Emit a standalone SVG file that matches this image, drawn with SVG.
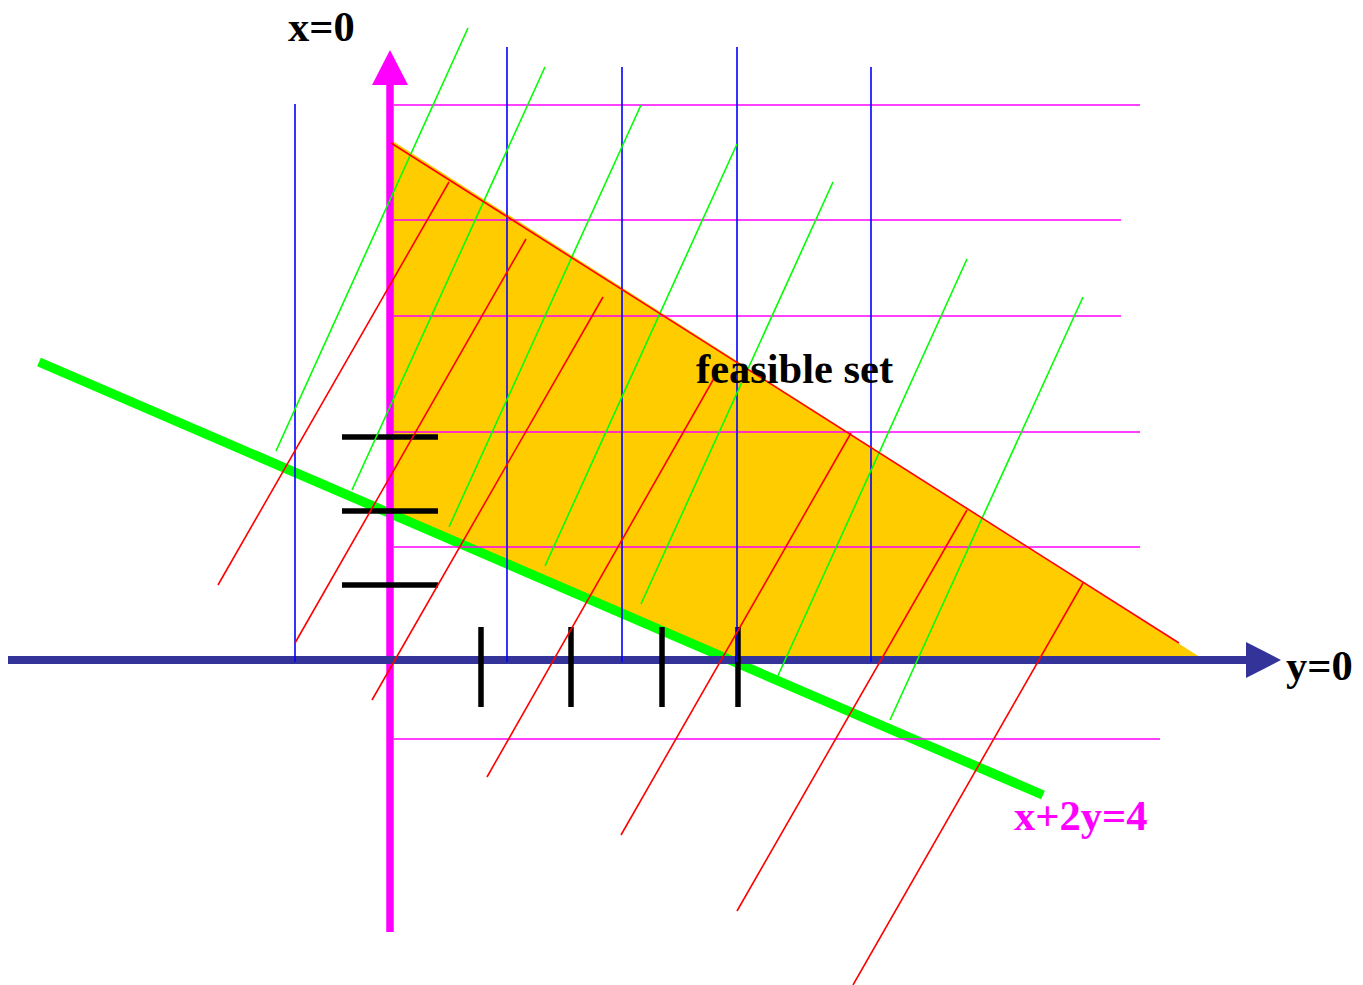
<svg xmlns="http://www.w3.org/2000/svg" width="1363" height="985" viewBox="0 0 1363 985">
<style>
.thin{fill:none;stroke-width:1.6;stroke-linecap:butt}
.mg{stroke:#FF00FF}
.bl{stroke:#0000FF}
.gr{stroke:#00FF00}
.rd{stroke:#FF0000}
.tick{stroke:#000000;stroke-width:5.5;fill:none}
.lbl{font-family:"Liberation Serif","Times New Roman",serif;font-weight:bold;font-size:42.5px}
</style>
<rect width="1363" height="985" fill="#FFFFFF"/>
<g id="feasible-set">
<polygon points="391,141 1198,657 723,657 391,514" fill="#FFCC00" stroke="#FFCC00" stroke-width="2" stroke-linejoin="miter"/>
</g>
<g id="constraint-line">
<line x1="39" y1="362" x2="1043" y2="795" stroke="#00FF00" stroke-width="9.5"/>
</g>
<g id="x-axis">
<line x1="390" y1="932" x2="390" y2="84" stroke="#FF00FF" stroke-width="7.5"/>
<polygon points="390,50 408,85 372,85" fill="#FF00FF"/>
</g>
<g id="y-axis">
<line x1="8" y1="660" x2="1247" y2="660" stroke="#333399" stroke-width="8"/>
<polygon points="1281,660 1246,642 1246,678" fill="#333399"/>
</g>
<g id="ticks">
<line class="tick" x1="342" y1="437" x2="438" y2="437"/>
<line class="tick" x1="342" y1="511" x2="438" y2="511"/>
<line class="tick" x1="342" y1="585" x2="438" y2="585"/>
<line class="tick" x1="481" y1="627" x2="481" y2="707"/>
<line class="tick" x1="571" y1="627" x2="571" y2="707"/>
<line class="tick" x1="662" y1="627" x2="662" y2="707"/>
<line class="tick" x1="738" y1="627" x2="738" y2="707"/>
</g>
<g id="hatching">
<g id="magenta-lines" class="thin mg">
<line x1="394" y1="105" x2="1140" y2="105"/>
<line x1="394" y1="220" x2="1121" y2="220"/>
<line x1="394" y1="316" x2="1121" y2="316"/>
<line x1="394" y1="432" x2="1140" y2="432"/>
<line x1="394" y1="547" x2="1140" y2="547"/>
<line x1="394" y1="739" x2="1160" y2="739"/>
</g>
<g id="blue-lines" class="thin bl">
<line x1="295" y1="104" x2="295" y2="662"/>
<line x1="507" y1="47" x2="507" y2="662"/>
<line x1="622" y1="67" x2="622" y2="662"/>
<line x1="737" y1="47" x2="737" y2="662"/>
<line x1="871" y1="67" x2="871" y2="662"/>
</g>
<g id="green-lines" class="thin gr">
<line x1="468" y1="28" x2="276" y2="451"/>
<line x1="545" y1="67" x2="352" y2="490"/>
<line x1="641" y1="105" x2="449" y2="527"/>
<line x1="737" y1="144" x2="545" y2="566"/>
<line x1="833" y1="182" x2="641" y2="604"/>
<line x1="967" y1="259" x2="776" y2="680"/>
<line x1="1083" y1="297" x2="890" y2="720"/>
</g>
<g id="red-lines" class="thin rd">
<line x1="391" y1="143" x2="1179" y2="643"/>
<line x1="449" y1="182" x2="218" y2="585"/>
<line x1="526" y1="239" x2="295" y2="643"/>
<line x1="603" y1="297" x2="372" y2="700"/>
<line x1="717" y1="373" x2="487" y2="777"/>
<line x1="851" y1="433" x2="621" y2="835"/>
<line x1="967" y1="510" x2="737" y2="911"/>
<line x1="1083" y1="583" x2="853" y2="985"/>
</g>
</g>
<g id="labels">
<text id="label-x0" class="lbl" x="288" y="41" fill="#000000">x=0</text>
<text id="label-y0" class="lbl" x="1286" y="680" fill="#000000">y=0</text>
<text id="label-feasible" class="lbl" x="696" y="383" fill="#000000">feasible set</text>
<text id="label-constraint" class="lbl" x="1014" y="830" fill="#FF00FF">x+2y=4</text>
</g>
</svg>
